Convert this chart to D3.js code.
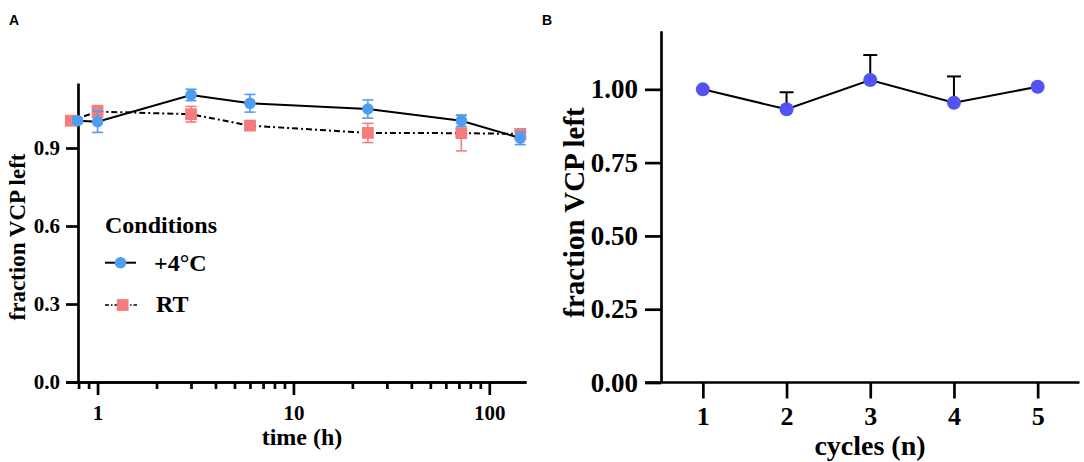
<!DOCTYPE html>
<html>
<head>
<meta charset="utf-8">
<script src="https://cdn.jsdelivr.net/npm/d3@7"></script>
<style>
  html, body { margin: 0; padding: 0; background: #fff; }
  svg { display: block; }
</style>
</head>
<body>
<svg id="chart" width="1084" height="462"></svg>
<script>
// ---------- Panel A data ----------
const timeTicksMajor = [1, 10, 100];
const timeTicksMinor = [0.8, 0.9, 2, 3, 4, 5, 6, 7, 8, 9, 20, 30, 40, 50, 60, 70, 80, 90];
const fracTicksA = [0, 0.3, 0.6, 0.9];
const seriesNames = ["+4°C", "RT"];
const timeCold = [0.79, 1, 3, 6, 24, 72, 144];
const meanCold = [1.005, 1.001, 1.104, 1.072, 1.05, 1.005, 0.938];
const errCold  = [0.01, 0.041, 0.022, 0.034, 0.035, 0.022, 0.025];
const timeRT   = [0.73, 1, 3, 6, 24, 72, 144];
const meanRT   = [1.005, 1.04, 1.03, 0.986, 0.958, 0.957, 0.954];
const errRT    = [0.0, 0.023, 0.03, 0.015, 0.037, 0.068, 0.02];

// ---------- Panel B data ----------
const cycles = [1, 2, 3, 4, 5];
const meanCycles = [1.000, 0.932, 1.032, 0.954, 1.009];
const errCycles  = [0.0, 0.058, 0.085, 0.09, 0.0];
const fracTicksB = [0, 0.25, 0.5, 0.75, 1.0];

const BLUE_A = "#4f9df2";
const RED_A = "#f47c7c";
const BLUE_B = "#5353f3";
const SERIF = '"Liberation Serif", "Times New Roman", serif';

const svg = d3.select("#chart");

// panel letters
svg.append("text").attr("x", 9).attr("y", 25).text("A")
  .attr("font-family", '"Liberation Sans", Arial, sans-serif').attr("font-weight", "bold").attr("font-size", 14);
svg.append("text").attr("x", 542).attr("y", 25).text("B")
  .attr("font-family", '"Liberation Sans", Arial, sans-serif').attr("font-weight", "bold").attr("font-size", 14);

// ================= Panel A =================
const xA = d3.scaleLog().domain([0.69, 154]).range([66, 526]);
const yA = d3.scaleLinear().domain([0, 1.15]).range([382, 83]);
const yAxisXA = 78;
const gA = svg.append("g");

const xAxMajor = gA.append("g").attr("transform", `translate(0,${yA(0)})`)
  .call(d3.axisBottom(xA).tickValues(timeTicksMajor).tickSize(13).tickSizeOuter(0).tickFormat(d3.format("d")));
const xAxMinor = gA.append("g").attr("transform", `translate(0,${yA(0)})`)
  .call(d3.axisBottom(xA).tickValues(timeTicksMinor).tickSize(7).tickSizeOuter(0).tickFormat(""));
[xAxMajor, xAxMinor].forEach(g => {
  g.select(".domain").attr("stroke-width", 2.7).attr("stroke", "#000");
  g.selectAll(".tick line").attr("stroke-width", 2.7).attr("stroke", "#000");
});
xAxMajor.selectAll(".tick text").attr("dy", null).attr("y", 38)
  .attr("font-family", SERIF).attr("font-weight", "bold").attr("font-size", 21).attr("fill", "#000");

const yAxA = gA.append("g").attr("transform", `translate(${yAxisXA},0)`)
  .call(d3.axisLeft(yA).tickValues(fracTicksA).tickSize(12).tickPadding(6).tickSizeOuter(0).tickFormat(d3.format(".1f")));
yAxA.select(".domain").attr("stroke-width", 2.7).attr("stroke", "#000");
yAxA.selectAll(".tick line").attr("stroke-width", 2.7).attr("stroke", "#000");
yAxA.selectAll(".tick text").attr("font-family", SERIF).attr("font-weight", "bold").attr("font-size", 21).attr("fill", "#000");

gA.append("text").attr("x", 302).attr("y", 445).attr("text-anchor", "middle")
  .attr("font-family", SERIF).attr("font-weight", "bold").attr("font-size", 24).text("time (h)");
gA.append("text").attr("transform", "translate(25,237) rotate(-90)").attr("text-anchor", "middle")
  .attr("font-family", SERIF).attr("font-weight", "bold").attr("font-size", 23).text("fraction VCP left");

const dataCold = timeCold.map((t, i) => ({ t, m: meanCold[i], e: errCold[i] }));
const dataRT = timeRT.map((t, i) => ({ t, m: meanRT[i], e: errRT[i] }));

const lineA = d3.line().x(d => xA(d.t)).y(d => yA(d.m));

function errorBars(g, data, xf, yf, color, cap, width, upperOnly) {
  const eg = g.append("g").attr("stroke", color).attr("stroke-width", width).attr("fill", "none");
  data.filter(d => d.e > 0).forEach(d => {
    const x = xf(d), yt = yf(d.m + d.e), yb = upperOnly ? yf(d.m) : yf(d.m - d.e);
    eg.append("line").attr("x1", x).attr("x2", x).attr("y1", yt).attr("y2", yb);
    eg.append("line").attr("x1", x - cap / 2).attr("x2", x + cap / 2).attr("y1", yt).attr("y2", yt);
    if (!upperOnly) eg.append("line").attr("x1", x - cap / 2).attr("x2", x + cap / 2).attr("y1", yb).attr("y2", yb);
  });
}

// RT series (behind)
gA.append("path").datum(dataRT).attr("d", lineA).attr("fill", "none").attr("stroke", "#000")
  .attr("stroke-width", 2).attr("stroke-dasharray", "6,3,2,3");
errorBars(gA, dataRT, d => xA(d.t), yA, RED_A, 11, 1.6, false);
gA.append("g").selectAll("rect").data(dataRT).join("rect")
  .attr("x", d => xA(d.t) - 5.9).attr("y", d => yA(d.m) - 5.9)
  .attr("width", 11.8).attr("height", 11.8).attr("fill", RED_A);

// +4°C series
gA.append("path").datum(dataCold).attr("d", lineA).attr("fill", "none").attr("stroke", "#000").attr("stroke-width", 2);
errorBars(gA, dataCold, d => xA(d.t), yA, BLUE_A, 11, 1.6, false);
gA.append("g").selectAll("circle").data(dataCold).join("circle")
  .attr("cx", d => xA(d.t)).attr("cy", d => yA(d.m)).attr("r", 5.8).attr("fill", BLUE_A);

// legend
const leg = gA.append("g");
leg.append("text").attr("x", 105).attr("y", 232.7).attr("font-family", SERIF).attr("font-weight", "bold")
  .attr("font-size", 24).text("Conditions");
leg.append("line").attr("x1", 105).attr("x2", 136).attr("y1", 262.7).attr("y2", 262.7).attr("stroke", "#000").attr("stroke-width", 2);
leg.append("circle").attr("cx", 120.5).attr("cy", 262.7).attr("r", 5.8).attr("fill", BLUE_A);
leg.append("text").attr("x", 154).attr("y", 270.7).attr("font-family", SERIF).attr("font-weight", "bold")
  .attr("font-size", 24).text(seriesNames[0]);
leg.append("line").attr("x1", 105).attr("x2", 137).attr("y1", 305).attr("y2", 305).attr("stroke", "#000")
  .attr("stroke-width", 1.6).attr("stroke-dasharray", "4,2,1.5,2");
leg.append("rect").attr("x", 122.7 - 5.9).attr("y", 305 - 5.9).attr("width", 11.8).attr("height", 11.8).attr("fill", RED_A);
leg.append("text").attr("x", 156).attr("y", 311.7).attr("font-family", SERIF).attr("font-weight", "bold")
  .attr("font-size", 24).text(seriesNames[1]);

// ================= Panel B =================
const xB = d3.scaleLinear().domain([0.5, 5.5]).range([661, 1079.5]);
const yB = d3.scaleLinear().domain([0, 1.2]).range([382.5, 30.7]);
const gB = svg.append("g");

const xAxB = gB.append("g").attr("transform", `translate(0,${yB(0)})`)
  .call(d3.axisBottom(xB).tickValues(cycles).tickSize(16).tickSizeOuter(0).tickFormat(d3.format("d")));
xAxB.select(".domain").attr("d", `M${xB(0.5) - 16},0H${xB(5.5)}`).attr("stroke-width", 2.7).attr("stroke", "#000");
xAxB.selectAll(".tick line").attr("stroke-width", 2.7).attr("stroke", "#000");
xAxB.selectAll(".tick text").attr("dy", null).attr("y", 42)
  .attr("font-family", SERIF).attr("font-weight", "bold").attr("font-size", 26).attr("fill", "#000");

const yAxB = gB.append("g").attr("transform", `translate(${xB(0.5)},0)`)
  .call(d3.axisLeft(yB).tickValues(fracTicksB).tickSize(16).tickPadding(7).tickSizeOuter(0).tickFormat(d3.format(".2f")));
yAxB.select(".domain").attr("stroke-width", 2.7).attr("stroke", "#000");
yAxB.selectAll(".tick line").attr("stroke-width", 2.7).attr("stroke", "#000");
yAxB.selectAll(".tick text").attr("font-family", SERIF).attr("font-weight", "bold").attr("font-size", 27).attr("fill", "#000");

gB.append("text").attr("x", 870).attr("y", 455).attr("text-anchor", "middle")
  .attr("font-family", SERIF).attr("font-weight", "bold").attr("font-size", 28).text("cycles (n)");
gB.append("text").attr("transform", "translate(583.5,212.5) rotate(-90)").attr("text-anchor", "middle")
  .attr("font-family", SERIF).attr("font-weight", "bold").attr("font-size", 29).text("fraction VCP left");

const dataB = cycles.map((c, i) => ({ c, m: meanCycles[i], e: errCycles[i] }));
gB.append("path").datum(dataB).attr("d", d3.line().x(d => xB(d.c)).y(d => yB(d.m)))
  .attr("fill", "none").attr("stroke", "#000").attr("stroke-width", 2);
errorBars(gB, dataB, d => xB(d.c), yB, "#000", 14, 2, true);
gB.append("g").selectAll("circle").data(dataB).join("circle")
  .attr("cx", d => xB(d.c)).attr("cy", d => yB(d.m)).attr("r", 7).attr("fill", BLUE_B);
</script>
</body>
</html>
